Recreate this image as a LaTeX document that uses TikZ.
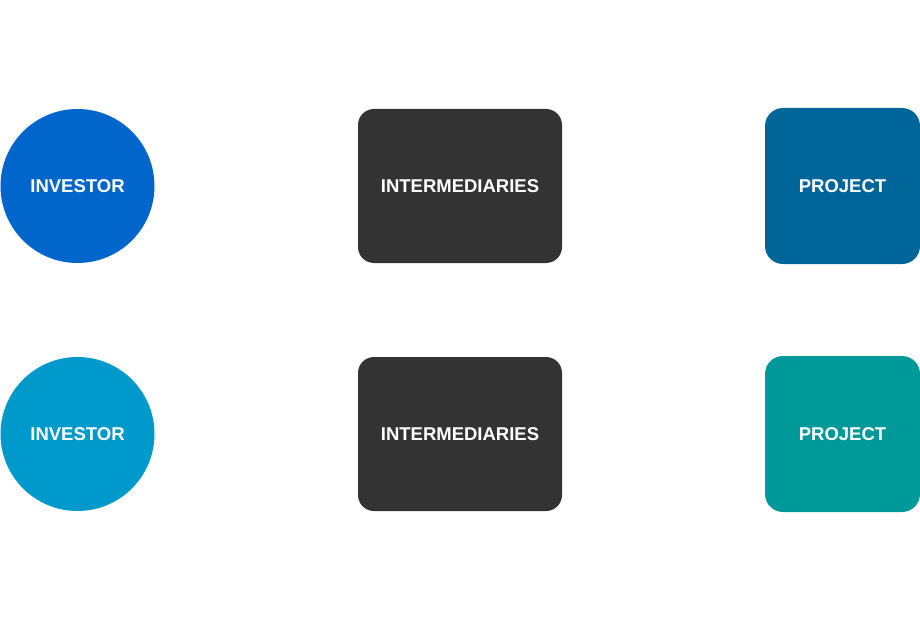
\documentclass[tikz,border=0pt]{standalone}
\usepackage{fontspec}
\setmainfont{Liberation Sans}
\definecolor{invA}{RGB}{0,102,204}
\definecolor{invB}{RGB}{0,153,204}
\definecolor{midC}{RGB}{51,51,51}
\definecolor{prjA}{RGB}{0,102,153}
\definecolor{prjB}{RGB}{0,153,153}
\begin{document}
\begin{tikzpicture}[x=1bp,y=-1bp,
  lbl/.style={text=white,font=\fontsize{18.5bp}{20bp}\selectfont\bfseries,inner sep=0pt},
  invnode/.style={lbl,circle,minimum size=154bp},
  midnode/.style={lbl,rectangle,rounded corners=16bp,minimum width=204bp,minimum height=154bp,fill=midC},
  prjnode/.style={lbl,rectangle,rounded corners=18bp,minimum width=155bp,minimum height=156bp}]
\useasboundingbox (0,0) rectangle (920,620);
\node[invnode,fill=invA] (inv1) at (77.5,186) {INVESTOR};
\node[invnode,fill=invB] (inv2) at (77.5,434) {INVESTOR};
\node[midnode] (mid1) at (460,186) {INTERMEDIARIES};
\node[midnode] (mid2) at (460,434) {INTERMEDIARIES};
\node[prjnode,fill=prjA] (prj1) at (842.5,186) {PROJECT};
\node[prjnode,fill=prjB] (prj2) at (842.5,434) {PROJECT};
\end{tikzpicture}
\end{document}
